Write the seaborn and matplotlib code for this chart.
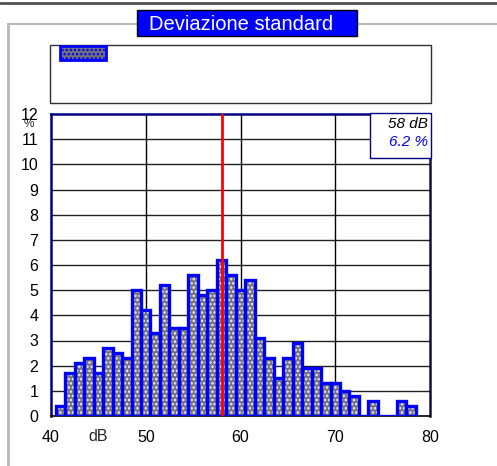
import numpy as np
import pandas as pd
import matplotlib
matplotlib.use("Agg")
import matplotlib.pyplot as plt
from matplotlib.patches import Rectangle, Patch
from matplotlib.lines import Line2D
from matplotlib.ticker import MultipleLocator
import seaborn as sns

# Level classes (dB, 1 dB wide) and their share of the measurement time (%)
levels_db = list(range(41, 79))
share_pct = [0.4, 1.7, 2.1, 2.3, 1.7, 2.7, 2.5, 2.3, 5.0, 4.2,
             3.3, 5.2, 3.5, 3.5, 5.6, 4.8, 5.0, 6.2, 5.6, 5.0,
             5.4, 3.1, 2.3, 1.5, 2.3, 2.9, 1.9, 1.9, 1.3, 1.3,
             1.0, 0.8, 0.0, 0.6, 0.0, 0.0, 0.6, 0.4]
x_ticks = [40, 50, 60, 70, 80]
y_ticks = list(range(0, 13))
title = "Deviazione standard"

df = pd.DataFrame({"level": levels_db, "share": share_pct})
mode_row = df.loc[df["share"].idxmax()]

sns.set_style("white")
plt.rcParams["font.family"] = ["Liberation Sans", "DejaVu Sans"]
plt.rcParams["hatch.linewidth"] = 1.2

W, H = 497, 466
fig = plt.figure(figsize=(W / 100, H / 100), dpi=100)
fig.patch.set_facecolor("white")


def fx(px):
    return px / W


def fy(py):
    return 1 - py / H


ax = fig.add_axes([fx(51), fy(416), (430 - 51) / W, (416 - 114) / H])

bar_face = "#747474"
bar_dots = "#f0f0f0"
bar_edge = "#0000ff"

# textured fill
sns.histplot(data=df, x="level", weights="share", discrete=True, ax=ax,
             stat="count", color=bar_face, edgecolor=bar_dots,
             linewidth=0, hatch="....", alpha=1.0, zorder=3)
# blue outlines
sns.histplot(data=df, x="level", weights="share", discrete=True, ax=ax,
             stat="count", fill=False, color=bar_edge, edgecolor=bar_edge,
             linewidth=2.4, zorder=4)

ax.set_xlim(40, 80)
ax.set_ylim(0, 12)
ax.set_xlabel("")
ax.set_ylabel("")

ax.set_xticks(x_ticks)
ax.set_xticklabels([str(v) for v in x_ticks])
ax.xaxis.set_minor_locator(MultipleLocator(2))
ax.set_yticks(y_ticks)
ax.set_yticklabels([str(v) for v in y_ticks])

ax.tick_params(axis="x", which="major", direction="out", length=8, width=1,
               pad=2, labelsize=11.5, colors="black")
ax.tick_params(axis="x", which="minor", direction="out", length=5, width=1)
ax.tick_params(axis="y", which="major", direction="out", length=9, width=1,
               pad=0, labelsize=11.5, colors="black")

# grid
for v in y_ticks[1:-1]:
    ax.axhline(v, color="#202020", lw=1.0, zorder=1)
for v in x_ticks[1:-1]:
    ax.axvline(v, color="#000000", lw=1.0, zorder=1)

for side in ["left", "top", "right"]:
    ax.spines[side].set_visible(True)
    ax.spines[side].set_color("#000080")
    ax.spines[side].set_linewidth(1.8)
ax.spines["right"].set_color("#101040")
ax.spines["bottom"].set_color("black")
ax.spines["bottom"].set_linewidth(1.2)
ax.spines["bottom"].set_visible(True)

# mode marker
ax.axvline(mode_row["level"], color="#ff0000", lw=2.0, zorder=5)

# unit labels
ax.text(45, -0.5, "dB", ha="center", va="top", fontsize=11.5,
        transform=ax.transData, clip_on=False)
fig.text(fx(29), fy(124), "%", ha="center", va="center", fontsize=8.5)

# mode readout box
fig.patches.append(Rectangle((fx(370), fy(158)), (431 - 370) / W, (158 - 113) / H,
                             transform=fig.transFigure, facecolor="white",
                             edgecolor="#000080", lw=1.0, zorder=10))
fig.text(fx(428), fy(124), f"{int(mode_row['level'])} dB", ha="right", va="center",
         fontsize=11, style="italic", color="black", zorder=11)
fig.text(fx(428), fy(142), f"{mode_row['share']:.1f} %", ha="right", va="center",
         fontsize=11, style="italic", color="#0000ff", zorder=11)

# outer frame and header rule
fig.add_artist(Line2D([fx(8), fx(8)], [fy(24), fy(470)], color="#b8b8b8", lw=2,
                      transform=fig.transFigure))
fig.add_artist(Line2D([fx(8), fx(500)], [fy(24), fy(24)], color="#b8b8b8", lw=1.5,
                      transform=fig.transFigure))
fig.add_artist(Line2D([0, 1], [fy(3), fy(3)], color="#505050", lw=2,
                      transform=fig.transFigure))

# title box
fig.patches.append(Rectangle((fx(137), fy(36)), (357 - 137) / W, (36 - 10) / H,
                             transform=fig.transFigure, facecolor="#0000ff",
                             edgecolor="black", lw=1.0, zorder=10))
fig.text(fx(149), fy(24), title, ha="left", va="center", fontsize=14.5,
         color="white", zorder=11)

# legend panel
fig.patches.append(Rectangle((fx(50), fy(103)), (431 - 50) / W, (103 - 45) / H,
                             transform=fig.transFigure, facecolor="white",
                             edgecolor="#303030", lw=1.0, zorder=2))
swatch = Patch(facecolor=bar_face, edgecolor=bar_edge, hatch="....", lw=2)
fig.legend(handles=[swatch], labels=[""], loc="upper left",
           bbox_to_anchor=(fx(60), fy(46)), frameon=False, fontsize=10,
           handlelength=3.3, handleheight=1.15, borderpad=0, borderaxespad=0,
           handletextpad=0)

fig.savefig("out.png", dpi=100)
